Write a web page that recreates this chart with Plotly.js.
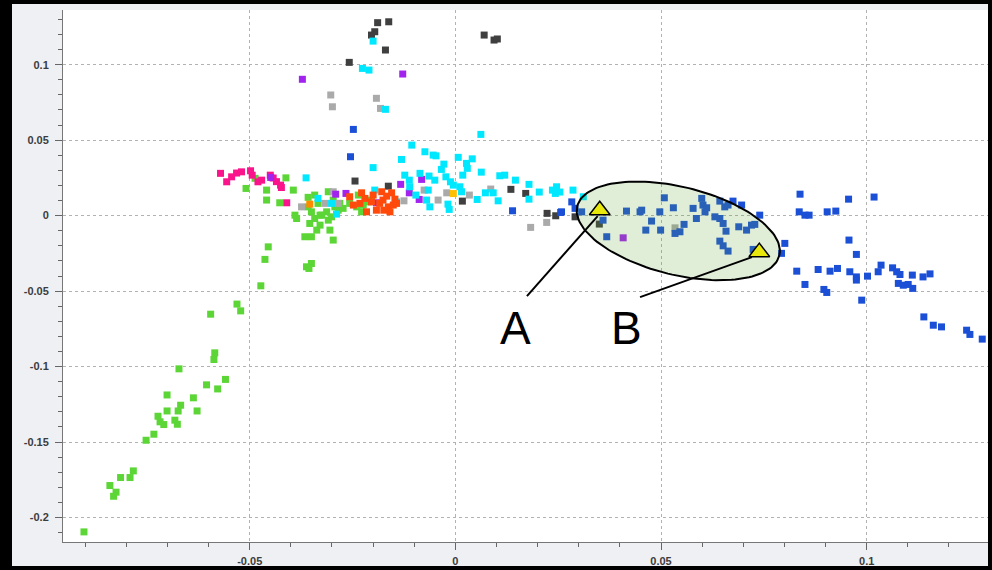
<!DOCTYPE html>
<html><head><meta charset="utf-8">
<script src="https://cdn.plot.ly/plotly-3.0.1.min.js"></script>
<style>
html,body{margin:0;padding:0;background:#000;width:992px;height:570px;overflow:hidden}
#chart{position:absolute;left:12px;top:4px;width:976px;height:562px}
</style></head><body><div id="chart"></div>
<script>
// ---- data ----
const greenX = [-0.0509,-0.0487,-0.0459,-0.0459,-0.0427,-0.0412,-0.0394,-0.0358,-0.0390,-0.0386,-0.0358,-0.0350,-0.0342,-0.0354,-0.0366,-0.0350,-0.0309,-0.0305,-0.0297,-0.0455,-0.0334,-0.0313,-0.0329,-0.0309,-0.0463,-0.0362,-0.0350,-0.0356,-0.0301,-0.0297,-0.0293,-0.0281,-0.0273,-0.0240,-0.0224,-0.0212,-0.0285,-0.0236,-0.0204,-0.0228,-0.0337,-0.0325,-0.0342,-0.0257,-0.0329,
 -0.0903,-0.0840,-0.0831,-0.0825,-0.0814,-0.0791,-0.0783,-0.0752,-0.0733,-0.0723,-0.0718,-0.0709,-0.0701,-0.0701,-0.0682,-0.0676,-0.0674,-0.0668,-0.0672,-0.0637,-0.0628,-0.0605,-0.0595,-0.0587,-0.0585,-0.0578,-0.0559,-0.0531,-0.0522,-0.0473];
const greenY = [0.0180,0.0247,0.0169,0.0103,0.0085,0.0250,0.0169,0.0121,0.0003,-0.0019,0.0058,0.0025,-0.0019,-0.0052,-0.0140,-0.0140,-0.0030,-0.0096,-0.0162,-0.0207,0.0081,0.0025,-0.0063,0.0158,-0.0290,-0.0339,-0.0317,-0.0350,-0.0008,0.0103,0.0058,0.0081,0.0048,0.0058,0.0070,0.0091,0.0036,0.0136,0.0103,0.0025,-0.0096,0.0003,0.0136,0.0081,0.0003,
 -0.2095,-0.1788,-0.1859,-0.1832,-0.1735,-0.1735,-0.1691,-0.1488,-0.1448,-0.1329,-0.1366,-0.1384,-0.1188,-0.1294,-0.1355,-0.1382,-0.1294,-0.1256,-0.1015,-0.1207,-0.1294,-0.1121,-0.0653,-0.0953,-0.0909,-0.1148,-0.1085,-0.0586,-0.0631,-0.0465];

const pinkX = [-0.0571,-0.0556,-0.0544,-0.0532,-0.0520,-0.0498,-0.0494,-0.0480,-0.0471,-0.0450,-0.0443,-0.0435,-0.0425,-0.0423,-0.0410];
const pinkY = [0.0280,0.0224,0.0257,0.0282,0.0290,0.0297,0.0268,0.0224,0.0235,0.0268,0.0249,0.0225,0.0202,0.0186,0.0085];

const darkGrayX = [-0.0189,-0.0162,-0.0196,-0.0204,-0.0170,-0.0258,0.0070,0.0094,0.0102,-0.0244,-0.0163,0.0017,0.0135,0.0171,0.0223,0.0244,0.0291,0.0350];
const darkGrayY = [0.1278,0.1284,0.1218,0.1196,0.1097,0.1015,0.1196,0.1163,0.1170,0.0229,0.0195,0.0096,0.0174,0.0147,0.0015,-0.0001,-0.0008,-0.0056];

const lightGrayX = [-0.0303,-0.0299,-0.0192,-0.0182,-0.0076,-0.0042,-0.0021,0.0034,0.0086,-0.0125,0.0183,0.0222,0.0534,-0.0374,-0.0317,-0.0297,-0.0285];
const lightGrayY = [0.0799,0.0721,0.0777,0.0710,0.0169,0.0103,0.0151,0.0136,0.0176,0.0098,-0.0078,-0.0045,-0.0081,0.0058,0.0081,0.0158,0.0081];

const purpleX = [-0.0372,-0.0128,-0.0082,-0.0133,-0.0112,-0.0088,0.0408,-0.0449,-0.0291,-0.0266,-0.0192];
const purpleY = [0.0903,0.0938,0.0240,0.0207,0.0151,0.0107,-0.0147,0.0253,0.0142,0.0147,0.0085];

const redX = [-0.0257,-0.0248,-0.0232,-0.0228,-0.0220,-0.0216,-0.0204,-0.0200,-0.0192,-0.0184,-0.0176,-0.0179,-0.0167,-0.0163,-0.0159,-0.0155,-0.0151,-0.0147,-0.0143,-0.0174];
const redY = [0.0125,0.0070,0.0081,0.0151,0.0114,0.0025,0.0091,0.0136,0.0036,0.0081,0.0103,0.0158,0.0129,0.0058,0.0025,0.0151,0.0070,0.0109,0.0081,0.0036];

const orangeX = [-0.0354];
const orangeY = [0.0076];

const yellowX = [-0.0005];
const yellowY = [0.0146];

const cyanX = [-0.0200,-0.0226,-0.0210,-0.0170,0.0062,-0.0106,-0.0074,-0.0054,-0.0047,-0.0131,-0.0200,0.0007,0.0041,0.0027,0.0029,0.0018,0.0063,-0.0028,-0.0034,-0.0123,-0.0112,-0.0111,-0.0086,-0.0064,-0.0023,-0.0012,-0.0005,0.0011,0.0015,-0.0096,-0.0143,-0.0070,-0.0062,-0.0018,-0.0015,0.0053,0.0073,0.0092,0.0104,0.0108,0.0120,0.0146,0.0179,0.0179,0.0204,0.0236,0.0246,0.0254,0.0243,0.0286,-0.0363,-0.0334,-0.0301,-0.0289,-0.0196,-0.0066,-0.0050,0.0311];
const cyanY = [0.1156,0.0975,0.0964,0.0704,0.0538,0.0467,0.0423,0.0401,0.0396,0.0372,0.0318,0.0386,0.0376,0.0346,0.0313,0.0268,0.0288,0.0341,0.0306,0.0268,0.0235,0.0191,0.0280,0.0262,0.0257,0.0224,0.0202,0.0191,0.0158,0.0136,0.0091,0.0103,0.0058,0.0076,0.0041,0.0107,0.0151,0.0151,0.0098,0.0264,0.0268,0.0235,0.0207,0.0109,0.0156,0.0169,0.0191,0.0156,0.0147,0.0169,0.0250,0.0114,0.0081,0.0010,0.0169,0.0169,0.0235,0.0125];

const blueX = [0.0258,0.0283,0.0291,0.0307,0.0359,0.0368,0.0416,0.0449,0.0453,0.0477,0.0463,0.0497,0.0499,0.0508,0.0530,0.0534,0.0546,0.0556,0.0578,0.0586,0.0599,0.0602,0.0607,0.0611,0.0643,0.0655,0.0663,0.0675,0.0696,0.0631,0.0643,0.0651,0.0658,0.0643,0.0651,0.0663,0.0689,0.0708,0.0720,0.0728,0.0740,0.0724,0.0801,0.0793,0.0830,0.0838,0.0836,0.0850,0.0860,0.0904,0.0925,0.0956,0.1018,0.0957,0.0975,0.0850,0.0882,0.0911,0.0929,0.0896,0.0903,0.0959,0.0975,0.0975,0.1002,0.0988,0.1028,0.1035,0.1063,0.1073,0.1081,0.1111,0.1137,0.1154,0.1077,0.1089,0.1101,0.1112,0.1139,0.1162,0.1182,0.1243,0.1251,0.1281,0.0139,0.0256,-0.0248,-0.0255];
const blueY = [0.0025,0.0091,0.0048,0.0025,-0.0030,-0.0140,0.0030,0.0025,0.0036,-0.0036,-0.0096,0.0025,-0.0096,0.0118,0.0052,-0.0118,-0.0107,-0.0058,0.0048,-0.0019,0.0114,0.0070,0.0025,0.0052,0.0096,0.0058,0.0070,0.0096,0.0070,-0.0008,-0.0019,-0.0052,-0.0103,-0.0169,-0.0200,-0.0235,-0.0074,-0.0096,-0.0063,-0.0058,0.0003,-0.0224,-0.0184,-0.0250,-0.0368,0.0142,0.0025,0.0003,0.0003,0.0025,0.0030,0.0109,0.0123,-0.0162,-0.0257,-0.0456,-0.0357,-0.0368,-0.0350,-0.0489,-0.0509,-0.0372,-0.0406,-0.0427,-0.0401,-0.0560,-0.0372,-0.0328,-0.0346,-0.0372,-0.0390,-0.0394,-0.0406,-0.0386,-0.0449,-0.0461,-0.0456,-0.0482,-0.0671,-0.0726,-0.0737,-0.0759,-0.0787,-0.0818,0.0032,0.0021,0.0571,0.0390];

const markerLabels = ['A', 'B'];
const markerX = [0.0351, 0.0739];
const markerY = [0.0036, -0.0242];

const xTickVals = [-0.05, 0, 0.05, 0.1];
const xTickText = ['-0.05', '0', '0.05', '0.1'];
const yTickVals = [-0.2, -0.15, -0.1, -0.05, 0, 0.05, 0.1];
const yTickText = ['-0.2', '-0.15', '-0.1', '-0.05', '0', '0.05', '0.1'];

// ---- layout geometry ----
const W = 976, H = 562, M = {l: 51, r: 0, t: 6, b: 24};
const xRange = [-0.0954, 0.1295], yRange = [-0.2162, 0.1362];
const kx = (W - M.l - M.r) / (xRange[1] - xRange[0]);
const ky = (H - M.t - M.b) / (yRange[1] - yRange[0]);

// highlight ellipse (annotation), center in data units, semi-axes in screen px
const ellCenter = [0.0542, -0.0101];
const ellA = 104, ellB = 44, ellAngle = 13.7 * Math.PI / 180;
const ellX = [], ellY = [];
for (let i = 0; i <= 144; i++) {
  const t = 2 * Math.PI * i / 144;
  const dx = ellA * Math.cos(t) * Math.cos(ellAngle) - ellB * Math.sin(t) * Math.sin(ellAngle);
  const dy = ellA * Math.cos(t) * Math.sin(ellAngle) + ellB * Math.sin(t) * Math.cos(ellAngle);
  ellX.push(ellCenter[0] + dx / kx);
  ellY.push(ellCenter[1] - dy / ky);
}

function pts(x, y, color, name) {
  return {type: 'scatter', mode: 'markers', x: x, y: y, name: name, hoverinfo: 'x+y',
    marker: {symbol: 'square', size: 7, color: color, line: {width: 0}}};
}

const traces = [
  pts(greenX, greenY, '#5cd636', 'green'),
  pts(pinkX, pinkY, '#fa148c', 'pink'),
  pts(lightGrayX, lightGrayY, '#aaaaaa', 'light gray'),
  pts(darkGrayX, darkGrayY, '#3f3f3f', 'dark gray'),
  pts(purpleX, purpleY, '#a222ee', 'purple'),
  pts(cyanX, cyanY, '#00e8ff', 'cyan'),
  pts(redX, redY, '#ff4a0c', 'red'),
  pts(orangeX, orangeY, '#ff8a00', 'orange'),
  pts(yellowX, yellowY, '#ffc000', 'yellow'),
  pts(blueX, blueY, '#1a4fd6', 'blue'),
  {type: 'scatter', mode: 'lines', x: ellX, y: ellY, fill: 'toself',
   fillcolor: 'rgba(100,170,60,0.2)', line: {color: '#000', width: 2}, hoverinfo: 'skip'},
  {type: 'scatter', mode: 'markers', x: markerX, y: markerY, text: markerLabels, hoverinfo: 'text',
   marker: {symbol: 'triangle-up', size: 18, color: '#e8e80c', line: {color: '#000', width: 1.5}}}
];

const axisCommon = {
  showline: true, linecolor: '#777', linewidth: 1, mirror: false,
  showgrid: true, gridcolor: '#b2b2b2', griddash: 'dot', gridwidth: 1,
  zeroline: false, ticks: 'outside', ticklen: 7, tickcolor: '#666', tickwidth: 1,
  tickmode: 'array', fixedrange: true,
  tickfont: {family: 'Liberation Sans, Arial, sans-serif', size: 11, color: '#3c3c3c', weight: 'bold'},
  minor: {tickmode: 'linear', tick0: 0, dtick: 0.01, ticks: 'outside', ticklen: 4, tickcolor: '#666', showgrid: false}
};

const layout = {
  width: W, height: H, margin: M, showlegend: false,
  paper_bgcolor: '#eef0f4', plot_bgcolor: '#ffffff',
  xaxis: Object.assign({}, axisCommon, {range: xRange, tickvals: xTickVals, ticktext: xTickText, ticklabelstandoff: 2}),
  yaxis: Object.assign({}, axisCommon, {range: yRange, tickvals: yTickVals, ticktext: yTickText, ticklabelstandoff: 4}),
  shapes: [
    {type: 'line', xref: 'x', yref: 'y', x0: 0.0346, y0: -0.0003, x1: 0.0174, y1: -0.0533, line: {color: '#000', width: 2}},
    {type: 'line', xref: 'x', yref: 'y', x0: 0.0721, y0: -0.0275, x1: 0.0449, y1: -0.0540, line: {color: '#000', width: 2}}
  ],
  annotations: [
    {x: 0.0145, y: -0.0746, xref: 'x', yref: 'y', text: markerLabels[0], showarrow: false,
     font: {family: 'Liberation Sans, Arial, sans-serif', size: 46, color: '#000'}},
    {x: 0.0417, y: -0.0746, xref: 'x', yref: 'y', text: markerLabels[1], showarrow: false,
     font: {family: 'Liberation Sans, Arial, sans-serif', size: 46, color: '#000'}}
  ]
};

Plotly.newPlot('chart', traces, layout, {displayModeBar: false, staticPlot: true});
</script>
</body></html>
